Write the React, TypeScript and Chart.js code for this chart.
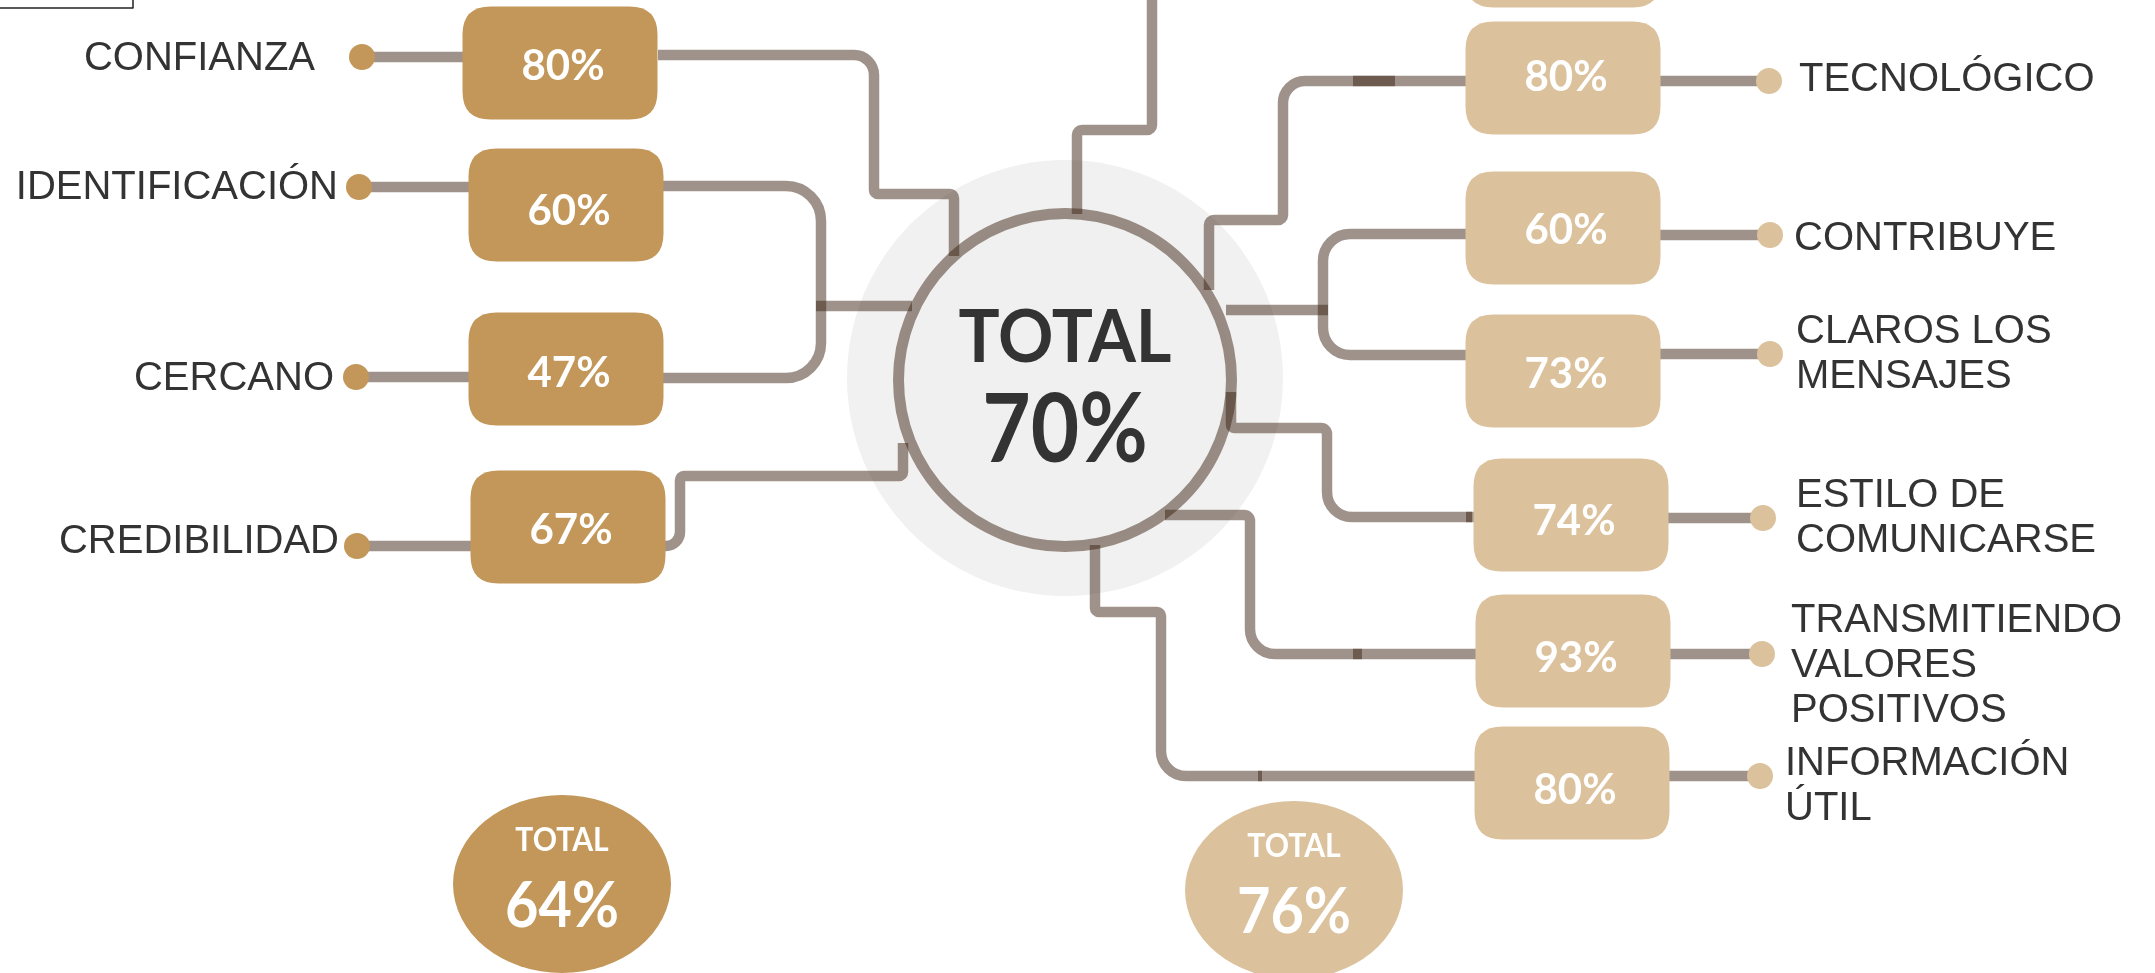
import React, { useEffect, useRef } from 'react';
import { Chart, registerables } from 'chart.js';

Chart.register(...registerables);

// ---------------- DATA ----------------
const leftLabels: string[][] = [['CONFIANZA'], ['IDENTIFICACIÓN'], ['CERCANO'], ['CREDIBILIDAD']];
const leftValues: number[] = [80, 60, 47, 67];

const rightLabels: string[][] = [
  ['TECNOLÓGICO'],
  ['CONTRIBUYE'],
  ['CLAROS LOS', 'MENSAJES'],
  ['ESTILO DE', 'COMUNICARSE'],
  ['TRANSMITIENDO', 'VALORES', 'POSITIVOS'],
  ['INFORMACIÓN', 'ÚTIL'],
];
const rightValues: number[] = [80, 60, 73, 74, 93, 80];

const totalLabel = 'TOTAL';
const overallTotal = 70;
const groupTotals: number[] = [64, 76];

// ---------------- LAYOUT (scale units) ----------------
const W = 2155;
const H = 973;

const LEFT_BOX_X = [560, 566, 566, 568];
const LEFT_BOX_Y = [63, 205, 369, 527];
const LEFT_DOT_X = [362, 359, 356, 357];
const LEFT_DOT_Y = [57, 187, 377, 546];
const LEFT_LABEL_X = [315, 338, 334, 339];
const LEFT_LABEL_BASE = [70, 199, 390, 553];

const RIGHT_BOX_X = [1563, 1563, 1563, 1571, 1573, 1572];
const RIGHT_BOX_Y = [78, 228, 371, 515, 651, 783];
const RIGHT_TEXT_DY = [13, 16, 17, 20, 21, 21];
const RIGHT_DOT_X = [1769, 1770, 1770, 1763, 1762, 1760];
const RIGHT_DOT_Y = [81, 235, 354, 518, 654, 776];
const RIGHT_LABEL_X = [1799, 1794, 1796, 1796, 1791, 1785];
const RIGHT_LABEL_BASE = [91, 250, 343, 507, 632, 775];
const LABEL_LINE_H = 45;

const PARTIAL_BOX = { x: 1563, y: -49 };

const BOX_W = 195;
const BOX_H = 113;
const BOX_R = 28;

const CENTER = { x: 1065, y: 380, r: 166.5, ring: 11 };
const HALO = { x: 1065, y: 378, r: 218 };
const TOTAL_ELLIPSES = [
  { x: 562, y: 884, rx: 109, ry: 89 },
  { x: 1294, y: 890, rx: 109, ry: 89 },
];

// connector routes: [x, y, cornerRadius]
const CONNECTORS: number[][][] = [
  [[658, 55], [874, 55, 20], [874, 194, 4], [954, 194, 4], [954, 256]],
  [[660, 186], [821, 186, 35], [821, 378, 35], [660, 378]],
  [[816, 306], [912, 306]],
  [[660, 546], [680, 546, 14], [680, 476, 4], [903, 476, 4], [903, 443]],
  [[1152, -20], [1152, 130, 5], [1077, 130, 5], [1077, 214]],
  [[1209, 290], [1209, 220, 5], [1283, 220, 5], [1283, 81, 22], [1470, 81]],
  [[1470, 234], [1323, 234, 27], [1323, 355, 27], [1470, 355]],
  [[1226, 310], [1328, 310]],
  [[1231, 392], [1231, 428, 3], [1327, 428, 6], [1327, 517, 25], [1478, 517]],
  [[1165, 515], [1250, 515, 6], [1250, 654, 25], [1480, 654]],
  [[1095, 545], [1095, 612, 4], [1161, 612, 4], [1161, 776, 25], [1478, 776]],
];
const DARK_MARKS: number[][][] = [
  [[1353, 81], [1395, 81]],
  [[1353, 654], [1362, 654]],
  [[1258, 776], [1262, 776]],
  [[1466, 517], [1472, 517]],
];

// ---------------- STYLE ----------------
const GOLD = '#C29759';
const TAN = '#DBC29D';
const LINE = 'rgba(57,33,16,0.49)';
const LINE_W = 10.5;
const TEXT_DARK = '#333333';
const LABEL_FONT = '40px "Liberation Sans", Arial, sans-serif';
const NUM_FONT = 'bold 42px Lato, sans-serif';

function roundRect(ctx: CanvasRenderingContext2D, x: number, y: number, w: number, h: number, r: number) {
  ctx.beginPath();
  ctx.moveTo(x + r, y);
  ctx.lineTo(x + w - r, y);
  ctx.quadraticCurveTo(x + w, y, x + w, y + r);
  ctx.lineTo(x + w, y + h - r);
  ctx.quadraticCurveTo(x + w, y + h, x + w - r, y + h);
  ctx.lineTo(x + r, y + h);
  ctx.quadraticCurveTo(x, y + h, x, y + h - r);
  ctx.lineTo(x, y + r);
  ctx.quadraticCurveTo(x, y, x + r, y);
  ctx.closePath();
}

function drawText(ctx: CanvasRenderingContext2D, text: string, x: number, y: number, font: string, sx: number) {
  ctx.save();
  ctx.translate(x, y);
  ctx.scale(sx, 1);
  ctx.font = font;
  ctx.textAlign = 'center';
  ctx.textBaseline = 'alphabetic';
  ctx.fillText(text, 0, 0);
  ctx.restore();
}

const infographicPlugin = {
  id: 'infographic',
  beforeDatasetsDraw(chart: any) {
    const ctx: CanvasRenderingContext2D = chart.ctx;
    const xs = chart.scales.x;
    const ys = chart.scales.y;
    const X = (v: number) => xs.getPixelForValue(v);
    const Y = (v: number) => ys.getPixelForValue(v);
    const unit = Math.abs(X(1) - X(0));
    ctx.save();

    // halo
    ctx.fillStyle = '#F1F1F1';
    ctx.beginPath();
    ctx.arc(X(HALO.x), Y(HALO.y), HALO.r * unit, 0, Math.PI * 2);
    ctx.fill();

    // centre disc
    ctx.fillStyle = '#EFF0EF';
    ctx.beginPath();
    ctx.arc(X(CENTER.x), Y(CENTER.y), CENTER.r * unit, 0, Math.PI * 2);
    ctx.fill();
    ctx.strokeStyle = LINE;
    ctx.lineWidth = CENTER.ring * unit;
    ctx.stroke();

    // connectors
    ctx.strokeStyle = LINE;
    ctx.lineWidth = LINE_W * unit;
    ctx.lineCap = 'butt';
    ctx.lineJoin = 'round';
    const drawRoute = (pts: number[][]) => {
      ctx.beginPath();
      ctx.moveTo(X(pts[0][0]), Y(pts[0][1]));
      for (let i = 1; i < pts.length - 1; i++) {
        const [x, y, r = 0] = pts[i];
        const [nx, ny] = pts[i + 1];
        if (r > 0) ctx.arcTo(X(x), Y(y), X(nx), Y(ny), r * unit);
        else ctx.lineTo(X(x), Y(y));
      }
      const last = pts[pts.length - 1];
      ctx.lineTo(X(last[0]), Y(last[1]));
      ctx.stroke();
    };
    CONNECTORS.forEach(drawRoute);
    DARK_MARKS.forEach(drawRoute);
    // dot-to-box connectors
    leftValues.forEach((_, i) => {
      drawRoute([[LEFT_DOT_X[i], LEFT_DOT_Y[i]], [LEFT_BOX_X[i] - BOX_W / 2 + 6, LEFT_DOT_Y[i]]]);
    });
    rightValues.forEach((_, i) => {
      drawRoute([[RIGHT_BOX_X[i] + BOX_W / 2 - 6, RIGHT_DOT_Y[i]], [RIGHT_DOT_X[i], RIGHT_DOT_Y[i]]]);
    });

    // small framed box in the top-left corner
    ctx.strokeStyle = '#222';
    ctx.lineWidth = 1.5;
    ctx.strokeRect(X(-4), Y(-4), X(133) - X(-4), Y(8) - Y(-4));
    ctx.restore();
  },
  afterDatasetsDraw(chart: any) {
    const ctx: CanvasRenderingContext2D = chart.ctx;
    const xs = chart.scales.x;
    const ys = chart.scales.y;
    const X = (v: number) => xs.getPixelForValue(v);
    const Y = (v: number) => ys.getPixelForValue(v);
    const unit = Math.abs(X(1) - X(0));
    ctx.save();

    const drawBoxes = (metaIndex: number, values: (number | null)[], color: string, dys: number[]) => {
      const meta = chart.getDatasetMeta(metaIndex);
      meta.data.forEach((el: any, i: number) => {
        const w = BOX_W * unit;
        const h = BOX_H * unit;
        ctx.fillStyle = color;
        roundRect(ctx, el.x - w / 2, el.y - h / 2, w, h, BOX_R * unit);
        ctx.fill();
        const v = values[i];
        if (v != null) {
          ctx.fillStyle = '#FFFFFF';
          drawText(ctx, `${v}%`, el.x + 3 * unit, el.y + (dys[i] ?? 16) * unit, NUM_FONT, 1);
        }
      });
    };
    drawBoxes(2, leftValues, GOLD, [17, 20, 18, 17]);
    drawBoxes(3, [...rightValues, null], TAN, RIGHT_TEXT_DY);

    // labels
    ctx.fillStyle = TEXT_DARK;
    ctx.font = LABEL_FONT;
    ctx.textBaseline = 'alphabetic';
    ctx.textAlign = 'right';
    leftLabels.forEach((lines, i) => {
      lines.forEach((t, j) => ctx.fillText(t, X(LEFT_LABEL_X[i]), Y(LEFT_LABEL_BASE[i] + j * LABEL_LINE_H)));
    });
    ctx.textAlign = 'left';
    rightLabels.forEach((lines, i) => {
      lines.forEach((t, j) => ctx.fillText(t, X(RIGHT_LABEL_X[i]), Y(RIGHT_LABEL_BASE[i] + j * LABEL_LINE_H)));
    });

    // centre total text
    const cMeta = chart.getDatasetMeta(4).data[0];
    ctx.fillStyle = TEXT_DARK;
    drawText(ctx, totalLabel, cMeta.x, cMeta.y - 18 * unit, 'bold 73px Lato, sans-serif', 0.94);
    drawText(ctx, `${overallTotal}%`, cMeta.x, cMeta.y + 82 * unit, 'bold 95px Lato, sans-serif', 0.88);

    // group totals
    const tMeta = chart.getDatasetMeta(5);
    tMeta.data.forEach((el: any, i: number) => {
      const e = TOTAL_ELLIPSES[i];
      ctx.fillStyle = i === 0 ? GOLD : TAN;
      ctx.beginPath();
      ctx.ellipse(el.x, el.y, e.rx * unit, e.ry * unit, 0, 0, Math.PI * 2);
      ctx.fill();
      ctx.fillStyle = '#FFFFFF';
      drawText(ctx, totalLabel, el.x, el.y - 33 * unit, 'bold 32px Lato, sans-serif', 0.94);
      drawText(ctx, `${groupTotals[i]}%`, el.x, el.y + 43 * unit, 'bold 64px Lato, sans-serif', 0.9);
    });
    ctx.restore();
  },
};

export default function App() {
  const canvasRef = useRef<HTMLCanvasElement | null>(null);

  useEffect(() => {
    document.body.style.margin = '0';
    document.body.style.overflow = 'hidden';
    const canvas = canvasRef.current;
    if (!canvas) return;

    const chart = new Chart(canvas, {
      type: 'scatter',
      data: {
        datasets: [
          {
            label: 'left dots',
            data: leftValues.map((_, i) => ({ x: LEFT_DOT_X[i], y: LEFT_DOT_Y[i] })),
            backgroundColor: GOLD,
            borderWidth: 0,
            pointRadius: 13,
          },
          {
            label: 'right dots',
            data: rightValues.map((_, i) => ({ x: RIGHT_DOT_X[i], y: RIGHT_DOT_Y[i] })),
            backgroundColor: TAN,
            borderWidth: 0,
            pointRadius: 13,
          },
          {
            label: 'left boxes',
            data: leftValues.map((_, i) => ({ x: LEFT_BOX_X[i], y: LEFT_BOX_Y[i] })),
            pointRadius: 0,
          },
          {
            label: 'right boxes',
            data: [
              ...rightValues.map((_, i) => ({ x: RIGHT_BOX_X[i], y: RIGHT_BOX_Y[i] })),
              { x: PARTIAL_BOX.x, y: PARTIAL_BOX.y },
            ],
            pointRadius: 0,
          },
          {
            label: 'total',
            data: [{ x: CENTER.x, y: CENTER.y }],
            pointRadius: 0,
          },
          {
            label: 'group totals',
            data: TOTAL_ELLIPSES.map((e) => ({ x: e.x, y: e.y })),
            pointRadius: 0,
          },
        ],
      },
      options: {
        responsive: false,
        animation: false,
        events: [],
        layout: { padding: 0, autoPadding: false },
        plugins: { legend: { display: false }, tooltip: { enabled: false } },
        scales: {
          x: { type: 'linear', min: 0, max: W, display: false },
          y: { type: 'linear', min: 0, max: H, reverse: true, display: false },
        },
      },
      plugins: [infographicPlugin],
    });

    return () => chart.destroy();
  }, []);

  return (
    <div style={{ width: W, height: H, background: '#FFFFFF' }}>
      <canvas ref={canvasRef} width={W} height={H} style={{ display: 'block' }} />
    </div>
  );
}
